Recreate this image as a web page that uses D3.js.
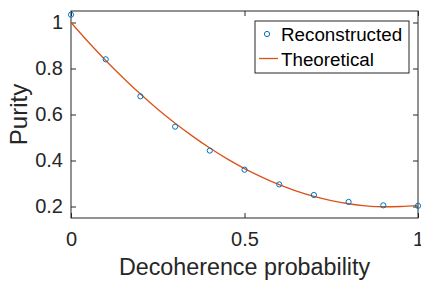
<!DOCTYPE html>
<html>
<head>
<meta charset="utf-8">
<script src="https://cdn.jsdelivr.net/npm/d3@7"></script>
<style>
body { margin: 0; background: #fff; }
svg { display: block; font-family: "Liberation Sans", Arial, sans-serif; }
</style>
</head>
<body>
<script>
const w = 421, h = 281;
const m = {left: 71, top: 11, right: 3, bottom: 63};

// reconstructed points
const recX = [0, 0.1, 0.2, 0.3, 0.4, 0.5, 0.6, 0.7, 0.8, 0.9, 1];
const recY = [1.034, 0.840, 0.679, 0.547, 0.443, 0.360, 0.296, 0.250, 0.220, 0.205, 0.203];

// theoretical curve
const thX = [0, 0.05, 0.1, 0.15, 0.2, 0.25, 0.3, 0.35, 0.4, 0.45, 0.5, 0.55, 0.6, 0.65, 0.7, 0.75, 0.8, 0.85, 0.9, 0.95, 1];
const thY = [1.000, 0.915, 0.835, 0.760, 0.689, 0.623, 0.562, 0.506, 0.454, 0.407, 0.365, 0.328, 0.295, 0.267, 0.244, 0.226, 0.212, 0.203, 0.199, 0.200, 0.205];

const xTicks = [0, 0.5, 1];
const yTicks = [0.2, 0.4, 0.6, 0.8, 1];

const svg = d3.select('body').append('svg').attr('width', w).attr('height', h);

const x = d3.scaleLinear().domain([0, 1]).range([m.left, w - m.right]);
const y = d3.scaleLinear().domain([0.15, 1.05]).range([h - m.bottom, m.top]);

const ink = '#262626';
const fmt = d => d3.format('')(d);

// axes with inward ticks
const gx = svg.append('g').attr('transform', 'translate(0,' + (h - m.bottom) + ')')
  .call(d3.axisBottom(x).tickValues(xTicks).tickSize(-5).tickPadding(14).tickFormat(fmt));
const gy = svg.append('g').attr('transform', 'translate(' + m.left + ',0)')
  .call(d3.axisLeft(y).tickValues(yTicks).tickSize(-5).tickPadding(8).tickFormat(fmt));
const gxt = svg.append('g').attr('transform', 'translate(0,' + m.top + ')')
  .call(d3.axisTop(x).tickValues(xTicks).tickSize(-5).tickFormat(''));
const gyr = svg.append('g').attr('transform', 'translate(' + (w - m.right) + ',0)')
  .call(d3.axisRight(y).tickValues(yTicks).tickSize(-5).tickFormat(''));

[gx, gy, gxt, gyr].forEach(g => {
  g.select('.domain').remove();
  g.selectAll('line').attr('stroke', ink);
  g.selectAll('text').attr('fill', ink).style('font-size', '20px').style('font-family', '"Liberation Sans", Arial, sans-serif');
});

svg.append('rect')
  .attr('x', m.left).attr('y', m.top)
  .attr('width', w - m.right - m.left).attr('height', h - m.bottom - m.top)
  .attr('fill', 'none').attr('stroke', ink).attr('stroke-width', 1);

// theoretical line
const line = d3.line().x(d => x(d[0])).y(d => y(d[1])).curve(d3.curveMonotoneX);
svg.append('path')
  .datum(thX.map((v, i) => [v, thY[i]]))
  .attr('d', line)
  .attr('fill', 'none').attr('stroke', '#D95319').attr('stroke-width', 1.3);

// reconstructed markers
svg.selectAll('.dot').data(recX.map((v, i) => [v, recY[i]])).enter()
  .append('circle')
  .attr('class', 'dot')
  .attr('cx', d => x(d[0])).attr('cy', d => y(d[1])).attr('r', 2.6)
  .attr('fill', 'none').attr('stroke', '#0072BD').attr('stroke-width', 1);

// axis labels
svg.append('text')
  .attr('x', (m.left + w - m.right) / 2).attr('y', 275)
  .attr('text-anchor', 'middle').attr('fill', ink)
  .style('font-size', '23.3px').text('Decoherence probability');

svg.append('text')
  .attr('transform', 'translate(27,' + ((m.top + h - m.bottom) / 2) + ') rotate(-90)')
  .attr('text-anchor', 'middle').attr('fill', ink)
  .style('font-size', '24px').text('Purity');

// legend
const lg = svg.append('g');
lg.append('rect').attr('x', 255).attr('y', 21).attr('width', 154).attr('height', 52)
  .attr('fill', '#fff').attr('stroke', ink).attr('stroke-width', 1);
lg.append('circle').attr('cx', 267).attr('cy', 34).attr('r', 2.6)
  .attr('fill', 'none').attr('stroke', '#0072BD').attr('stroke-width', 1);
lg.append('line').attr('x1', 259).attr('x2', 278).attr('y1', 58.5).attr('y2', 58.5)
  .attr('stroke', '#D95319').attr('stroke-width', 1.3);
lg.append('text').attr('x', 281).attr('y', 41).attr('fill', '#000')
  .style('font-size', '18.8px').text('Reconstructed');
lg.append('text').attr('x', 281).attr('y', 66).attr('fill', '#000')
  .style('font-size', '18.8px').text('Theoretical');
</script>
</body>
</html>
